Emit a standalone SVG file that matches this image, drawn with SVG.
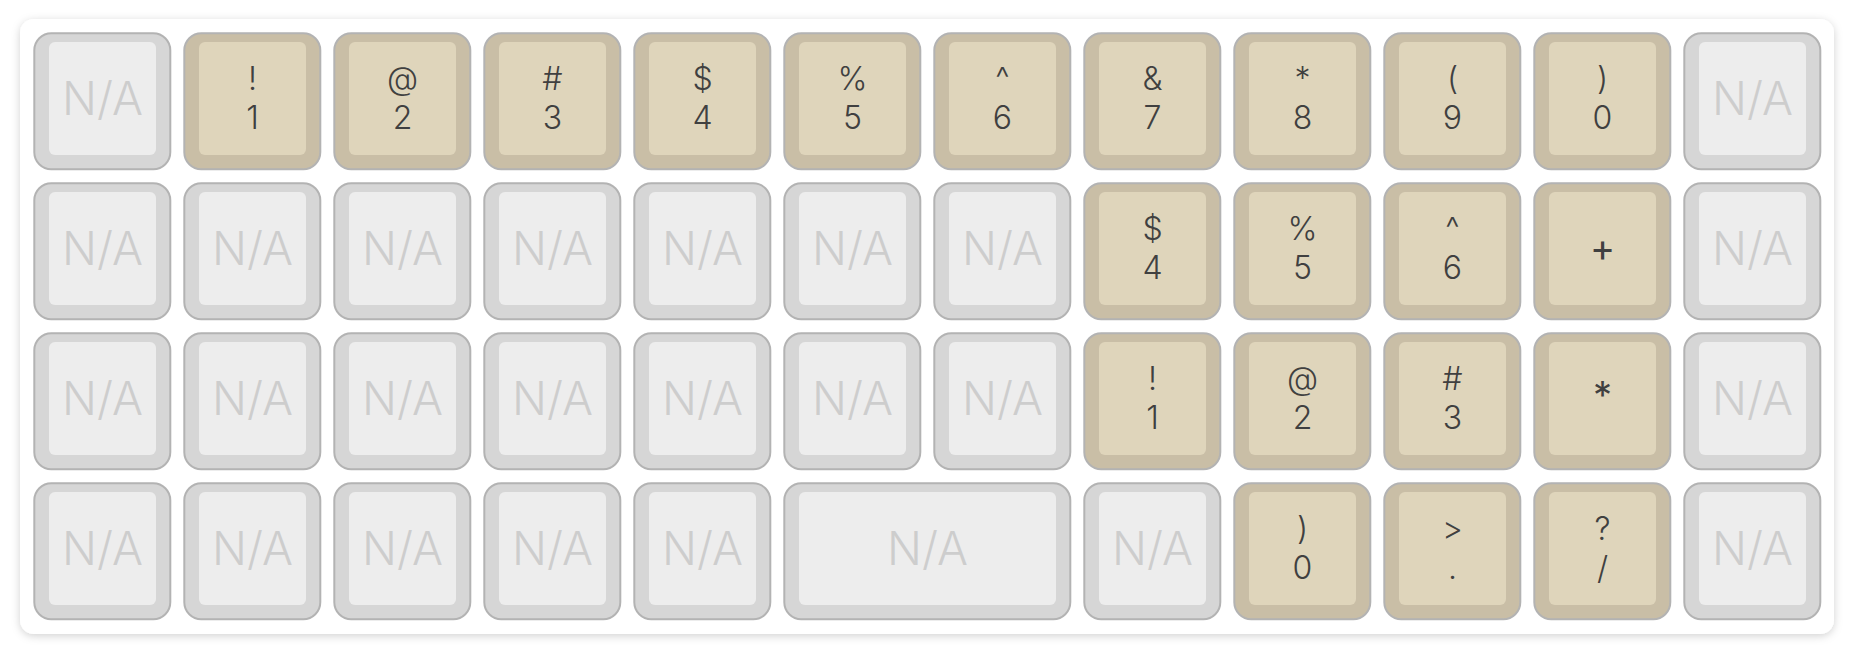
<svg xmlns="http://www.w3.org/2000/svg" width="1854" height="652" viewBox="0 0 1854 652">
<defs>
<filter id="sh" x="-5%" y="-10%" width="110%" height="120%">
<feDropShadow dx="0" dy="2" stdDeviation="4" flood-color="#000" flood-opacity="0.18"/>
</filter>
<style>
.o{stroke:#b3b3b3;stroke-width:2}
.go{fill:#d6d6d6}
.gi{fill:#ededed}
.to{fill:#c9bea6}
.ti{fill:#dfd5bb}
text{font-family:Inter,"Open Sans","Liberation Sans",sans-serif;font-weight:300;text-anchor:middle}
.na{font-size:46px;fill:#cdcdcd}
.lb{font-size:32px;fill:#404040}
.sg{font-size:38px;font-weight:400;fill:#404040}
</style>
<g id="gkey"><rect class="o go" x="1" y="1" width="136" height="136" rx="17"/><rect class="gi" x="15.7" y="9.7" width="107" height="113" rx="6"/></g>
<g id="tkey"><rect class="o to" x="1" y="1" width="136" height="136" rx="17"/><rect class="ti" x="15.7" y="9.7" width="107" height="113" rx="6"/></g>
</defs>
<rect id="panel" x="20" y="19" width="1814" height="615" rx="14" fill="#fff" filter="url(#sh)"/>
<g id="keys">
<!-- row 1 -->
<g id="k00" transform="translate(33.3,32.3)"><use href="#gkey"/><text class="na" x="69.2" y="82.7">N/A</text></g>
<g id="k01" transform="translate(183.3,32.3)"><use href="#tkey"/><text class="lb" x="69.2" y="57.7">!</text><text class="lb" x="69.2" y="96.7">1</text></g>
<g id="k02" transform="translate(333.3,32.3)"><use href="#tkey"/><text class="lb" x="69.2" y="57.7">@</text><text class="lb" x="69.2" y="96.7">2</text></g>
<g id="k03" transform="translate(483.3,32.3)"><use href="#tkey"/><text class="lb" x="69.2" y="57.7">#</text><text class="lb" x="69.2" y="96.7">3</text></g>
<g id="k04" transform="translate(633.3,32.3)"><use href="#tkey"/><text class="lb" x="69.2" y="57.7">$</text><text class="lb" x="69.2" y="96.7">4</text></g>
<g id="k05" transform="translate(783.3,32.3)"><use href="#tkey"/><text class="lb" x="69.2" y="57.7">%</text><text class="lb" x="69.2" y="96.7">5</text></g>
<g id="k06" transform="translate(933.3,32.3)"><use href="#tkey"/><text class="lb" x="69.2" y="57.7">^</text><text class="lb" x="69.2" y="96.7">6</text></g>
<g id="k07" transform="translate(1083.3,32.3)"><use href="#tkey"/><text class="lb" x="69.2" y="57.7">&amp;</text><text class="lb" x="69.2" y="96.7">7</text></g>
<g id="k08" transform="translate(1233.3,32.3)"><use href="#tkey"/><text class="lb" x="69.2" y="57.7">*</text><text class="lb" x="69.2" y="96.7">8</text></g>
<g id="k09" transform="translate(1383.3,32.3)"><use href="#tkey"/><text class="lb" x="69.2" y="57.7">(</text><text class="lb" x="69.2" y="96.7">9</text></g>
<g id="k10" transform="translate(1533.3,32.3)"><use href="#tkey"/><text class="lb" x="69.2" y="57.7">)</text><text class="lb" x="69.2" y="96.7">0</text></g>
<g id="k11" transform="translate(1683.3,32.3)"><use href="#gkey"/><text class="na" x="69.2" y="82.7">N/A</text></g>
<!-- row 2 -->
<g id="k12" transform="translate(33.3,182.3)"><use href="#gkey"/><text class="na" x="69.2" y="82.7">N/A</text></g>
<g id="k13" transform="translate(183.3,182.3)"><use href="#gkey"/><text class="na" x="69.2" y="82.7">N/A</text></g>
<g id="k14" transform="translate(333.3,182.3)"><use href="#gkey"/><text class="na" x="69.2" y="82.7">N/A</text></g>
<g id="k15" transform="translate(483.3,182.3)"><use href="#gkey"/><text class="na" x="69.2" y="82.7">N/A</text></g>
<g id="k16" transform="translate(633.3,182.3)"><use href="#gkey"/><text class="na" x="69.2" y="82.7">N/A</text></g>
<g id="k17" transform="translate(783.3,182.3)"><use href="#gkey"/><text class="na" x="69.2" y="82.7">N/A</text></g>
<g id="k18" transform="translate(933.3,182.3)"><use href="#gkey"/><text class="na" x="69.2" y="82.7">N/A</text></g>
<g id="k19" transform="translate(1083.3,182.3)"><use href="#tkey"/><text class="lb" x="69.2" y="57.7">$</text><text class="lb" x="69.2" y="96.7">4</text></g>
<g id="k20" transform="translate(1233.3,182.3)"><use href="#tkey"/><text class="lb" x="69.2" y="57.7">%</text><text class="lb" x="69.2" y="96.7">5</text></g>
<g id="k21" transform="translate(1383.3,182.3)"><use href="#tkey"/><text class="lb" x="69.2" y="57.7">^</text><text class="lb" x="69.2" y="96.7">6</text></g>
<g id="k22" transform="translate(1533.3,182.3)"><use href="#tkey"/><text class="sg" x="69.2" y="78.5">+</text></g>
<g id="k23" transform="translate(1683.3,182.3)"><use href="#gkey"/><text class="na" x="69.2" y="82.7">N/A</text></g>
<!-- row 3 -->
<g id="k24" transform="translate(33.3,332.3)"><use href="#gkey"/><text class="na" x="69.2" y="82.7">N/A</text></g>
<g id="k25" transform="translate(183.3,332.3)"><use href="#gkey"/><text class="na" x="69.2" y="82.7">N/A</text></g>
<g id="k26" transform="translate(333.3,332.3)"><use href="#gkey"/><text class="na" x="69.2" y="82.7">N/A</text></g>
<g id="k27" transform="translate(483.3,332.3)"><use href="#gkey"/><text class="na" x="69.2" y="82.7">N/A</text></g>
<g id="k28" transform="translate(633.3,332.3)"><use href="#gkey"/><text class="na" x="69.2" y="82.7">N/A</text></g>
<g id="k29" transform="translate(783.3,332.3)"><use href="#gkey"/><text class="na" x="69.2" y="82.7">N/A</text></g>
<g id="k30" transform="translate(933.3,332.3)"><use href="#gkey"/><text class="na" x="69.2" y="82.7">N/A</text></g>
<g id="k31" transform="translate(1083.3,332.3)"><use href="#tkey"/><text class="lb" x="69.2" y="57.7">!</text><text class="lb" x="69.2" y="96.7">1</text></g>
<g id="k32" transform="translate(1233.3,332.3)"><use href="#tkey"/><text class="lb" x="69.2" y="57.7">@</text><text class="lb" x="69.2" y="96.7">2</text></g>
<g id="k33" transform="translate(1383.3,332.3)"><use href="#tkey"/><text class="lb" x="69.2" y="57.7">#</text><text class="lb" x="69.2" y="96.7">3</text></g>
<g id="k34" transform="translate(1533.3,332.3)"><use href="#tkey"/><text class="sg" x="69.2" y="77">*</text></g>
<g id="k35" transform="translate(1683.3,332.3)"><use href="#gkey"/><text class="na" x="69.2" y="82.7">N/A</text></g>
<!-- row 4 -->
<g id="k36" transform="translate(33.3,482.3)"><use href="#gkey"/><text class="na" x="69.2" y="82.7">N/A</text></g>
<g id="k37" transform="translate(183.3,482.3)"><use href="#gkey"/><text class="na" x="69.2" y="82.7">N/A</text></g>
<g id="k38" transform="translate(333.3,482.3)"><use href="#gkey"/><text class="na" x="69.2" y="82.7">N/A</text></g>
<g id="k39" transform="translate(483.3,482.3)"><use href="#gkey"/><text class="na" x="69.2" y="82.7">N/A</text></g>
<g id="k40" transform="translate(633.3,482.3)"><use href="#gkey"/><text class="na" x="69.2" y="82.7">N/A</text></g>
<g id="k41" transform="translate(783.3,482.3)"><rect class="o go" x="1" y="1" width="286" height="136" rx="17"/><rect class="gi" x="15.7" y="9.7" width="257" height="113" rx="6"/><text class="na" x="144.2" y="82.7">N/A</text></g>
<g id="k42" transform="translate(1083.3,482.3)"><use href="#gkey"/><text class="na" x="69.2" y="82.7">N/A</text></g>
<g id="k43" transform="translate(1233.3,482.3)"><use href="#tkey"/><text class="lb" x="69.2" y="57.7">)</text><text class="lb" x="69.2" y="96.7">0</text></g>
<g id="k44" transform="translate(1383.3,482.3)"><use href="#tkey"/><text class="lb" x="69.2" y="57.7">&gt;</text><text class="lb" x="69.2" y="96.7">.</text></g>
<g id="k45" transform="translate(1533.3,482.3)"><use href="#tkey"/><text class="lb" x="69.2" y="57.7">?</text><text class="lb" x="69.2" y="96.7">/</text></g>
<g id="k46" transform="translate(1683.3,482.3)"><use href="#gkey"/><text class="na" x="69.2" y="82.7">N/A</text></g>
</g>
<g id="connectors"/>
</svg>
